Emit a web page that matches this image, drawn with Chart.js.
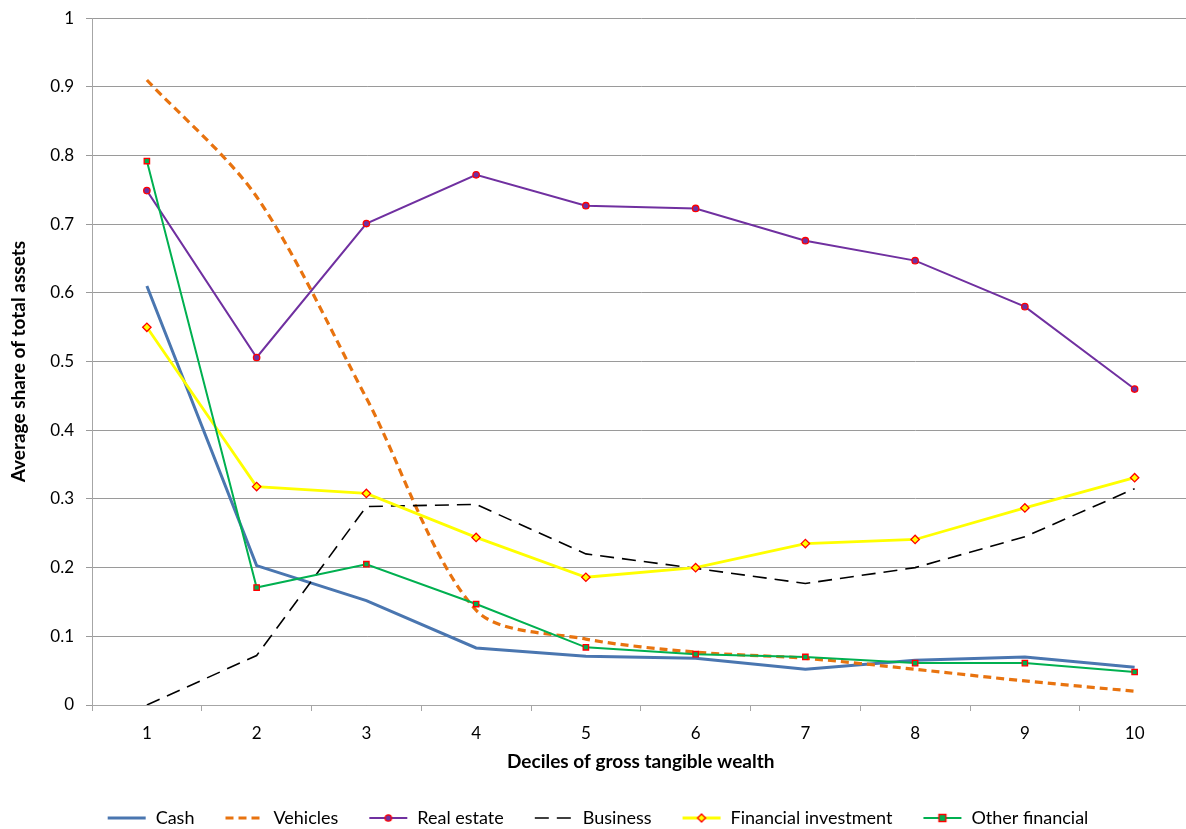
<!DOCTYPE html>
<html>
<head>
<meta charset="utf-8">
<script src="https://cdn.jsdelivr.net/npm/chart.js@4/dist/chart.umd.min.js"></script>
<style>
  html, body { margin: 0; padding: 0; background: #fff; overflow: hidden; }
  #wrap { position: relative; width: 1186px; height: 829px; overflow: hidden; }
  #grafico { position: absolute; left: 0; top: -4px; }
</style>
</head>
<body>
<div id="wrap"><canvas id="grafico" width="1195" height="835"></canvas></div>
<script>
const decis = ['1', '2', '3', '4', '5', '6', '7', '8', '9', '10'];
const cash = [0.61, 0.203, 0.152, 0.083, 0.071, 0.068, 0.052, 0.065, 0.070, 0.055];
const vehicles = [0.91, 0.74, 0.447, 0.138, 0.096, 0.077, 0.068, 0.052, 0.035, 0.020];
const realEstate = [0.749, 0.506, 0.701, 0.772, 0.727, 0.723, 0.676, 0.647, 0.580, 0.460];
const business = [0.0, 0.072, 0.289, 0.292, 0.220, 0.199, 0.177, 0.200, 0.245, 0.315];
const finInvest = [0.550, 0.318, 0.308, 0.244, 0.186, 0.200, 0.235, 0.241, 0.287, 0.331];
const otherFin = [0.792, 0.171, 0.205, 0.147, 0.084, 0.074, 0.070, 0.061, 0.061, 0.048];
const yTicks = [0, 0.1, 0.2, 0.3, 0.4, 0.5, 0.6, 0.7, 0.8, 0.9, 1];

const fonte = 'Lato, "Open Sans", sans-serif';

// pequena amostra de legenda: linha + marcador
function amostra(cor, largura, traco, marcador) {
  const c = document.createElement('canvas');
  c.width = 40; c.height = 14;
  const ctx = c.getContext('2d');
  ctx.strokeStyle = cor;
  ctx.lineWidth = largura;
  ctx.setLineDash(traco || []);
  ctx.beginPath();
  ctx.moveTo(1, 7); ctx.lineTo(39, 7);
  ctx.stroke();
  ctx.setLineDash([]);
  if (marcador) {
    ctx.fillStyle = marcador.fill;
    ctx.strokeStyle = '#ff0000';
    ctx.lineWidth = 1.3;
    ctx.beginPath();
    if (marcador.tipo === 'circle') {
      ctx.arc(20, 7, 3.2, 0, Math.PI * 2);
    } else if (marcador.tipo === 'rectRot') {
      ctx.moveTo(20, 3); ctx.lineTo(24, 7); ctx.lineTo(20, 11); ctx.lineTo(16, 7); ctx.closePath();
    } else {
      ctx.rect(16.5, 3.5, 7, 7);
    }
    ctx.fill();
    ctx.stroke();
  }
  return c;
}

const series = [
  { label: 'Cash', data: cash, borderColor: '#4a76b0', borderWidth: 3, pointRadius: 0, tension: 0,
    amostra: amostra('#4a76b0', 3) },
  { label: 'Vehicles', data: vehicles, borderColor: '#e8730f', borderWidth: 3.2, borderDash: [8, 5],
    pointRadius: 0, tension: 0.3, amostra: amostra('#e8730f', 3.2, [8, 5]) },
  { label: 'Real estate', data: realEstate, borderColor: '#7030a0', borderWidth: 2, tension: 0,
    pointStyle: 'circle', pointRadius: 3.2, pointBackgroundColor: '#7030a0', pointBorderColor: '#ff0000',
    pointBorderWidth: 1.3, amostra: amostra('#7030a0', 2, null, { tipo: 'circle', fill: '#7030a0' }) },
  { label: 'Business', data: business, borderColor: '#000000', borderWidth: 1.6, borderDash: [14, 8],
    pointRadius: 0, tension: 0, amostra: amostra('#000000', 1.6, [14, 8]) },
  { label: 'Financial investment', data: finInvest, borderColor: '#ffff00', borderWidth: 2.8, tension: 0,
    pointStyle: 'rectRot', pointRadius: 4.2, pointBackgroundColor: '#ffff00', pointBorderColor: '#ff0000',
    pointBorderWidth: 1.3, amostra: amostra('#ffff00', 2.8, null, { tipo: 'rectRot', fill: '#ffff00' }) },
  { label: 'Other financial', data: otherFin, borderColor: '#00b050', borderWidth: 2, tension: 0,
    pointStyle: 'rect', pointRadius: 3.8, pointBackgroundColor: '#00b050', pointBorderColor: '#ff0000',
    pointBorderWidth: 1.3, amostra: amostra('#00b050', 2, null, { tipo: 'rect', fill: '#00b050' }) }
];

new Chart(document.getElementById('grafico'), {
  type: 'line',
  data: {
    labels: decis,
    datasets: series.map((s, i) => Object.assign({ fill: false, order: 6 - i, pointHoverRadius: s.pointRadius }, s))
  },
  options: {
    responsive: false,
    animation: false,
    devicePixelRatio: 1,
    layout: { padding: { top: 4, right: 0, bottom: -6, left: 0 } },
    scales: {
      x: {
        offset: true,
        grid: { offset: true, drawOnChartArea: false, drawTicks: true, tickLength: 6, color: '#a6a6a6' },
        border: { color: '#a6a6a6' },
        ticks: { color: '#000', font: { family: fonte, size: 17 }, padding: 12 },
        title: { display: true, text: 'Deciles of gross tangible wealth', color: '#000',
          font: { family: fonte, size: 19, weight: 'bold' }, padding: { top: 4, bottom: 6 } },
        afterFit: (s) => { s.height = 74; }
      },
      y: {
        min: 0, max: 1,
        afterBuildTicks: (s) => { s.ticks = yTicks.map(v => ({ value: v })); },
        grid: { color: '#9a9a9a', tickLength: 6 },
        border: { color: '#a6a6a6' },
        ticks: { color: '#000', font: { family: fonte, size: 17 }, padding: 12,
          callback: (v) => String(Math.round(v * 10) / 10) },
        title: { display: true, text: 'Average share of total assets', color: '#000',
          font: { family: fonte, size: 19, weight: 'bold' }, padding: { top: 7, bottom: 0 } },
        afterFit: (s) => { s.width = 92; }
      }
    },
    plugins: {
      tooltip: { enabled: false },
      legend: {
        position: 'bottom',
        labels: {
          usePointStyle: true,
          pointStyleWidth: 40,
          padding: 30,
          color: '#000',
          font: { family: fonte, size: 18, lineHeight: 1 },
          generateLabels: (chart) => series.map((s, i) => ({
            text: s.label,
            pointStyle: s.amostra,
            fillStyle: 'transparent',
            strokeStyle: 'transparent',
            lineWidth: 0,
            datasetIndex: i,
            fontColor: '#000'
          }))
        }
      }
    }
  }
});
</script>
</body>
</html>
